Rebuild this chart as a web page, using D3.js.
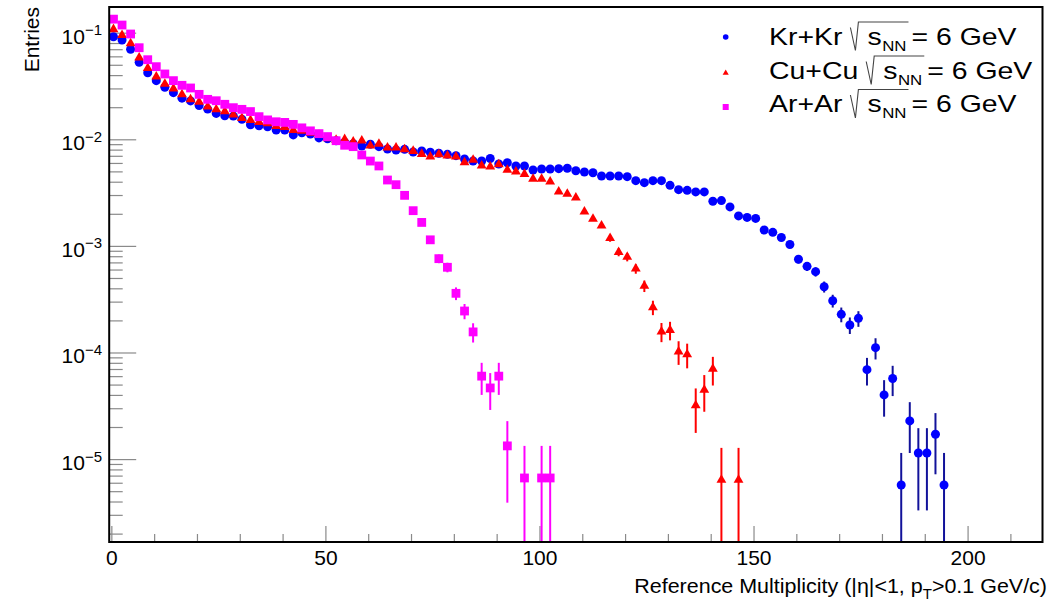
<!DOCTYPE html>
<html><head><meta charset="utf-8">
<script src="https://cdn.jsdelivr.net/npm/d3@7"></script>
<style>
body{margin:0;background:#fff}
svg{display:block}
text{font-family:"Liberation Sans", Arial, Helvetica, sans-serif;fill:#000}
</style>
</head><body>
<svg id="c" width="1053" height="603"></svg>
<script>
// ---------- DATA ----------
const binCenters = [
  0.5,2.5,4.5,6.5,8.5,10.5,12.5,14.5,16.5,18.5,
  20.5,22.5,24.5,26.5,28.5,30.5,32.5,34.5,36.5,38.5,
  40.5,42.5,44.5,46.5,48.5,50.5,52.5,54.5,56.5,58.5,
  60.5,62.5,64.5,66.5,68.5,70.5,72.5,74.5,76.5,78.5,
  80.5,82.5,84.5,86.5,88.5,90.5,92.5,94.5,96.5,98.5,
  100.5,102.5,104.5,106.5,108.5,110.5,112.5,114.5,116.5,118.5,
  120.5,122.5,124.5,126.5,128.5,130.5,132.5,134.5,136.5,138.5,
  140.5,142.5,144.5,146.5,148.5,150.5,152.5,154.5,156.5,158.5,
  160.5,162.5,164.5,166.5,168.5,170.5,172.5,174.5,176.5,178.5,
  180.5,182.5,184.5,186.5,188.5,190.5,192.5,194.5
];

const krValues = [
  0.0917,0.0855,0.0699,0.0527,0.0421,0.0355,0.0307,0.0274,0.0243,0.0229,
  0.0207,0.0192,0.0175,0.0166,0.0165,0.0154,0.0137,0.0134,0.0131,0.0122,
  0.0122,0.0110,0.0115,0.0112,0.0103,0.0101,0.0097,0.0094,0.0091,0.00865,
  0.00898,0.00853,0.00811,0.00794,0.00805,0.0076,0.00777,0.00755,0.00739,0.00723,
  0.00702,0.00653,0.00625,0.00625,0.0066,0.00586,0.00603,0.00562,0.00562,0.00515,
  0.00526,0.00526,0.0053,0.00535,0.00507,0.00493,0.00486,0.00453,0.00453,0.00453,
  0.00446,0.00409,0.00392,0.00409,0.00409,0.0037,0.00337,0.00332,0.00321,0.00321,
  0.00262,0.00266,0.00232,0.00191,0.00185,0.00181,0.00141,0.00134,0.0012,0.00103,
  0.000749,0.000643,0.000573,0.000414,0.000306,0.000228,0.000181,0.000209,0.000069,0.000111,
  0.000040,0.000057,0.00000571,0.0000228,0.0000114,0.0000114,0.0000171,0.00000571
];
const krErrors = [
  0,0,0,0,0,0,0,0,0,0,
  0,0,0,0,0,0,0,0,0,0,
  0,0,0,0,0,0,0,0,0,0,
  0,0,0,0,0,0,0,0,0,0,
  0,0,0,0,0,0,0,0,0,0,
  0,0,0,0,0,0,0,0,0,0,
  0,0,0,0,0,0,0,0,0,0,
  0,0,0,0,0,0,0.00009,0.000087,0.000083,0.000077,
  0.000065,0.000061,0.000057,0.000049,0.000042,0.000036,0.000032,0.000035,0.00002,0.000025,
  0.000015,0.000018,0.00000571,0.0000114,0.0000081,0.0000081,0.0000099,0.00000571
];

const cuValues = [
  0.1076,0.095,0.0795,0.0583,0.0464,0.0387,0.033,0.0298,0.0264,0.0237,
  0.0224,0.0202,0.0191,0.0183,0.017,0.0158,0.0151,0.0145,0.0141,0.0133,
  0.013,0.0122,0.012,0.0115,0.011,0.0102,0.00984,0.0100,0.0095,0.0097,
  0.0087,0.00903,0.00834,0.00834,0.00805,0.00776,0.00727,0.00687,0.00723,0.00702,
  0.00687,0.00608,0.0064,0.00565,0.00553,0.00582,0.00515,0.00497,0.00472,0.00424,
  0.00424,0.0040,0.00323,0.00308,0.00283,0.00209,0.00179,0.00155,0.00118,0.000874,
  0.000787,0.00061,0.000421,0.000265,0.000157,0.000162,0.000102,0.000096,0.0000318,0.0000446,
  0.00007,0.00000637,null,0.00000637
];
const cuErrors = [
  0,0,0,0,0,0,0,0,0,0,
  0,0,0,0,0,0,0,0,0,0,
  0,0,0,0,0,0,0,0,0,0,
  0,0,0,0,0,0,0,0,0,0,
  0,0,0,0,0,0,0,0,0,0,
  0,0,0,0,0,0,0,0,0.000087,0.000075,
  0.000071,0.000062,0.000052,0.000041,0.000032,0.000032,0.0000255,0.000025,0.0000142,0.0000168,
  0.000021,0.00000637,0,0.00000637
];

const arValues = [
  0.134,0.118,0.0972,0.0723,0.0558,0.048,0.041,0.0355,0.0321,0.0303,
  0.0264,0.0237,0.023,0.0213,0.0198,0.0191,0.0182,0.0163,0.0152,0.0146,
  0.0144,0.0138,0.0128,0.012,0.0113,0.0106,0.0097,0.00879,0.00853,0.00713,
  0.00625,0.00562,0.00415,0.00375,0.00298,0.00214,0.00166,0.00114,0.000759,0.00063,
  0.000359,0.000245,0.000156,0.00006,0.0000465,0.00006,0.0000133,null,0.00000665,null,
  0.00000665,0.00000665
];
const arErrors = [
  0,0,0,0,0,0,0,0,0,0,
  0,0,0,0,0,0,0,0,0,0,
  0,0,0,0,0,0,0,0,0,0,
  0,0,0,0,0,0,0,0.000087,0.000071,0.000065,
  0.000049,0.00004,0.000032,0.00002,0.0000176,0.00002,0.0000094,0,0.00000665,0,
  0.00000665,0.00000665
];

const seriesNames = ["Kr+Kr", "Cu+Cu", "Ar+Ar"];
const energyLabel = "= 6 GeV";
const xTickValues = [0, 50, 100, 150, 200];
const xMinorTickValues = [10,20,30,40,60,70,80,90,110,120,130,140,160,170,180,190,210];
const yTickExponents = [-5, -4, -3, -2, -1];
const xTitleParts = ["Reference Multiplicity (|η|<1, p", "T", ">0.1 GeV/c)"];
const yTitle = "Entries";

// ---------- CHART ----------
const svg = d3.select("#c");
const L = 109.2, R = 1042.5, T = 7, B = 542;
const x = d3.scaleLinear().domain([-0.5, 217.5]).range([L, R]);
const y = d3.scaleLog().domain([1.668e-6, 0.1742]).range([B, T]);
const tickColor = "#8a8a8a";

svg.append("defs").append("clipPath").attr("id", "plotclip")
  .append("rect").attr("x", L).attr("y", T).attr("width", R - L).attr("height", B - T);

// X axis ticks (major, minor)
const gxMaj = svg.append("g").attr("transform", `translate(0,${B})`)
  .call(d3.axisBottom(x).tickValues(xTickValues).tickSize(-16).tickPadding(8).tickFormat(d3.format("d")));
gxMaj.select(".domain").remove();
gxMaj.selectAll("line").attr("stroke", tickColor).attr("stroke-width", 1.2);
gxMaj.selectAll("text").attr("font-size", 21).attr("font-family", '"Liberation Sans", Arial, sans-serif').attr("fill", "#000");

const gxMin = svg.append("g").attr("transform", `translate(0,${B})`)
  .call(d3.axisBottom(x).tickValues(xMinorTickValues).tickSize(-8).tickFormat(""));
gxMin.select(".domain").remove();
gxMin.selectAll("line").attr("stroke", tickColor).attr("stroke-width", 1.2);

// Y axis ticks
const yMajorVals = yTickExponents.map(e => Math.pow(10, e));
const gyMaj = svg.append("g").attr("transform", `translate(${L},0)`)
  .call(d3.axisLeft(y).tickValues(yMajorVals).tickSize(-27).tickFormat(""));
gyMaj.select(".domain").remove();
gyMaj.selectAll("line").attr("stroke", tickColor).attr("stroke-width", 1.2);

const yMinorVals = [];
for (let e = -6; e <= -1; e++) for (let m = 2; m <= 9; m++) {
  const v = m * Math.pow(10, e);
  if (v > y.domain()[0] && v < y.domain()[1]) yMinorVals.push(v);
}
const gyMin = svg.append("g").attr("transform", `translate(${L},0)`)
  .call(d3.axisLeft(y).tickValues(yMinorVals).tickSize(-13.5).tickFormat(""));
gyMin.select(".domain").remove();
gyMin.selectAll("line").attr("stroke", tickColor).attr("stroke-width", 1.2);

// Y tick labels 10^k
yTickExponents.forEach(e => {
  const ty = y(Math.pow(10, e));
  const t = svg.append("text").attr("x", 102).attr("y", ty + 11)
    .attr("text-anchor", "end").attr("font-size", 21);
  t.append("tspan").text("10");
  t.append("tspan").attr("dy", -8.5).attr("font-size", 15).text("\u2212" + Math.abs(e));
});

// Axis titles
const xt = svg.append("text").attr("font-size", 20).attr("text-anchor", "end")
  .attr("x", 0).attr("y", 0);
xt.append("tspan").text(xTitleParts[0]);
xt.append("tspan").attr("dy", 6).attr("font-size", 14).text(xTitleParts[1]);
xt.append("tspan").attr("dy", -6).text(xTitleParts[2]);
{
  const w = xt.node().getBBox().width || 400;
  const sx = 413 / w;
  xt.attr("transform", `translate(1047,593) scale(${sx},1)`);
}

svg.append("text").attr("font-size", 21).attr("text-anchor", "end")
  .attr("transform", "translate(38.5,7) rotate(-90)").text(yTitle);

// Series drawing
const plot = svg.append("g").attr("clip-path", "url(#plotclip)");
function pts(values, errors) {
  return values.map((v, i) => ({x: binCenters[i], v, e: errors[i]})).filter(d => d.v != null);
}
function drawBars(data, color) {
  plot.append("g").selectAll("line").data(data.filter(d => d.e > 0)).join("line")
    .attr("x1", d => x(d.x)).attr("x2", d => x(d.x))
    .attr("y1", d => y(d.v + d.e))
    .attr("y2", d => (d.v - d.e) > 1e-9 ? y(d.v - d.e) : B + 10)
    .attr("stroke", color).attr("stroke-width", 2);
}
const kr = pts(krValues, krErrors), cu = pts(cuValues, cuErrors), ar = pts(arValues, arErrors);

drawBars(kr, "#12129a");
plot.append("g").selectAll("circle").data(kr).join("circle")
  .attr("cx", d => x(d.x)).attr("cy", d => y(d.v)).attr("r", 4.5).attr("fill", "#0000ff");

drawBars(cu, "#ff0000");
const tri = d3.symbol().type(d3.symbolTriangle).size(42);
plot.append("g").selectAll("path").data(cu).join("path")
  .attr("d", tri).attr("transform", d => `translate(${x(d.x)},${y(d.v)})`).attr("fill", "#ff0000");

drawBars(ar, "#ff00ff");
plot.append("g").selectAll("rect").data(ar).join("rect")
  .attr("x", d => x(d.x) - 4.4).attr("y", d => y(d.v) - 4.4)
  .attr("width", 8.8).attr("height", 8.8).attr("fill", "#ff00ff");

// Frame
svg.append("rect").attr("x", L).attr("y", T).attr("width", R - L).attr("height", B - T)
  .attr("fill", "none").attr("stroke", "#000").attr("stroke-width", 2);

// Legend
const legRows = [
  {name: seriesNames[0], base: 44.5, my: 37, kind: "circle", color: "#0000ff"},
  {name: seriesNames[1], base: 78.5, my: 73, kind: "tri", color: "#ff0000"},
  {name: seriesNames[2], base: 112, my: 107, kind: "square", color: "#ff00ff"}
];
const lsx = 1.16;
legRows.forEach(r => {
  const mx = 725.7;
  if (r.kind === "circle") svg.append("circle").attr("cx", mx).attr("cy", r.my).attr("r", 2.8).attr("fill", r.color);
  else if (r.kind === "tri") svg.append("path").attr("d", d3.symbol().type(d3.symbolTriangle).size(16)())
    .attr("transform", `translate(${mx},${r.my})`).attr("fill", r.color);
  else svg.append("rect").attr("x", mx - 3).attr("y", r.my - 3).attr("width", 6).attr("height", 6).attr("fill", r.color);

  const g = svg.append("g").attr("transform", `translate(769,${r.base}) scale(${lsx},1)`);
  let cx = 0;
  const t1 = g.append("text").attr("x", 0).attr("y", 0).attr("font-size", 24.5).text(r.name);
  cx += t1.node().getComputedTextLength();
  const rs = cx + 8 / lsx; // radical start
  const sText = g.append("text").attr("x", rs + 17 / lsx).attr("y", 0).attr("font-size", 24.5).text("s");
  const sEnd = rs + 17 / lsx + sText.node().getComputedTextLength();
  const nn = g.append("text").attr("x", sEnd + 0.5).attr("y", 6).attr("font-size", 14.5).text("NN");
  const nnEnd = sEnd + 0.5 + nn.node().getComputedTextLength();
  g.append("path")
    .attr("d", `M${rs},-17 L${rs + 5 / lsx},6 L${rs + 8 / lsx},-22.5 L${nnEnd + 2 / lsx},-22.5`)
    .attr("fill", "none").attr("stroke", "#444").attr("stroke-width", 1.1)
    .attr("vector-effect", "non-scaling-stroke");
  g.append("text").attr("x", nnEnd + 5 / lsx).attr("y", 0).attr("font-size", 24.5).text(energyLabel);
});
</script>
</body></html>
